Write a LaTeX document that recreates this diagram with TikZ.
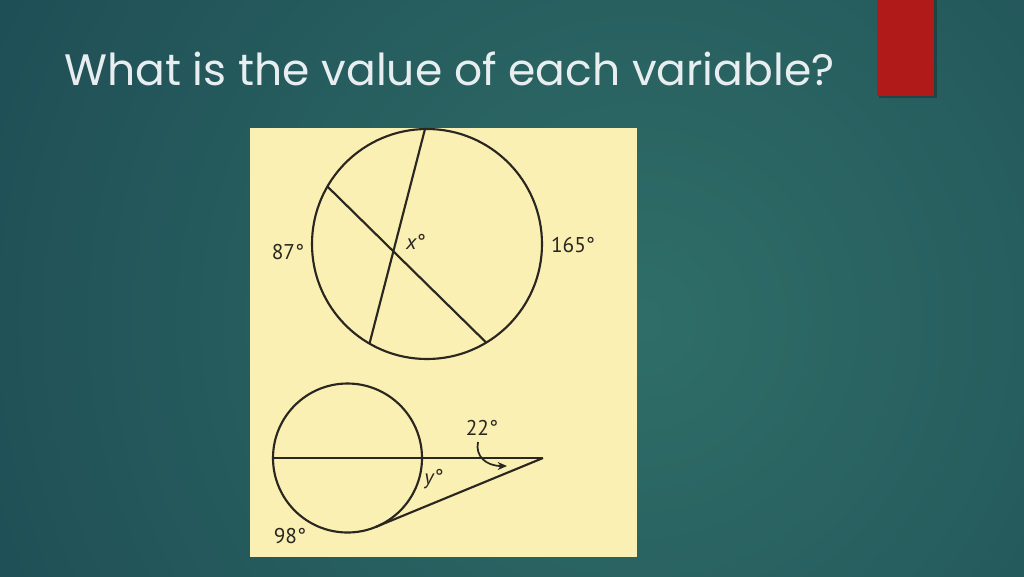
\documentclass[tikz,border=0pt]{standalone}
\usepackage{fontspec}
\setmainfont{PT Sans}
\newfontfamily\titlefont{Poppins}
\usetikzlibrary{calc,arrows.meta}
\definecolor{bgin}{HTML}{2F6E68}
\definecolor{bgout}{HTML}{153B4B}
\definecolor{panel}{HTML}{FAF0B4}
\definecolor{redbar}{HTML}{B01B1A}
\definecolor{titlecol}{HTML}{E8EEF0}
\definecolor{ink}{HTML}{2A2620}
\tikzset{
  geo/.style={draw=ink,line width=1.6pt},
  lbl/.style={inner sep=0pt,text=ink,font=\fontsize{16}{16}\selectfont},
}
\begin{document}
\begin{tikzpicture}[x=0.75pt,y=-0.75pt]
\useasboundingbox (0,0) rectangle (1024,576);
% background
\begin{scope}
\clip (0,0) rectangle (1024,576);
\fill[bgout] (0,0) rectangle (1024,576);
\shade[inner color=bgin,outer color=bgout] (640,320) circle (1150);
\end{scope}
% red bar
\fill[black,opacity=0.25] (879,0) rectangle (937,98);
\fill[redbar] (877,0) rectangle (934,96);
% title
\node[anchor=base west,inner sep=0pt,text=titlecol,font=\titlefont\fontsize{33}{33}\selectfont] (title) at (64,85) {What is the value of each variable?};
% panel
\fill[panel] (250,128) rectangle (637,557);
% top circle
\coordinate (c1) at (427,244);
\draw[geo] (c1) circle (115);
\coordinate (p1) at ($(c1)+(-91:115)$);
\coordinate (p2) at ($(c1)+(-240:115)$);
\coordinate (p3) at ($(c1)+(-150:115)$);
\coordinate (p4) at ($(c1)+(-301:115)$);
\draw[geo] (p1) -- (p2);
\draw[geo] (p3) -- (p4);
\node[lbl] (l87) at (288,252) {87°};
\node[lbl] (l165) at (573,245) {165°};
\node[lbl] (lx) at (416,242) {\textit{x}°};
% bottom circle
\coordinate (c2) at (347.5,458);
\draw[geo] (c2) circle (74.5);
\coordinate (left) at ($(c2)+(-74.5,0)$);
\coordinate (apex) at (543,458);
\coordinate (tan) at ($(c2)+(67.6:74.5)$);
\draw[geo] (left) -- (apex);
\draw[geo,line join=miter] (apex) -- (tan);
\node[lbl] (l22) at (482,428) {22°};
\node[lbl] (ly) at (434,479) {\textit{y}°};
\node[lbl] (l98) at (290,536) {98°};
\coordinate (astart) at (478,442);
\coordinate (aend) at (507,466);
\draw[geo,line width=1.3pt,-{Stealth[length=7pt,width=6pt]}] (astart) .. controls (475,456) and (486,466) .. (aend);
\end{tikzpicture}
\end{document}
